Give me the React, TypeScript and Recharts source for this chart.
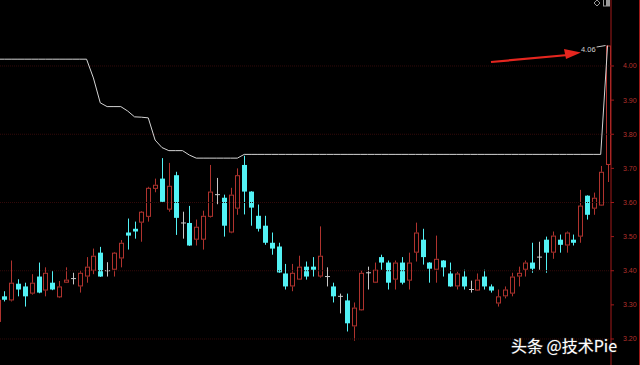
import {
  Bar,
  ComposedChart,
  Line,
  ReferenceDot,
  ReferenceLine,
  XAxis,
  YAxis,
} from 'recharts';

// one candle per trading day, oldest first (the first one is cut by the left edge)
const opens = [
  3.25, 3.325, 3.313, 3.362, 3.354, 3.333, 3.383, 3.342, 3.365, 3.322,
  3.365, 3.377, 3.354, 3.383, 3.4, 3.453, 3.4, 3.403, 3.436, 3.512,
  3.523, 3.541, 3.558, 3.64, 3.67, 3.579, 3.68, 3.54, 3.54, 3.491,
  3.491, 3.558, 3.623, 3.614, 3.512, 3.582, 3.71, 3.632, 3.561, 3.532,
  3.482, 3.471, 3.392, 3.354, 3.374, 3.412, 3.412, 3.383, 3.383, 3.354,
  3.325, 3.313, 3.237, 3.284, 3.394, 3.365, 3.44, 3.424, 3.374, 3.424,
  3.371, 3.453, 3.491, 3.424, 3.403, 3.43, 3.392, 3.354, 3.383, 3.345,
  3.342, 3.383, 3.354, 3.304, 3.325, 3.333, 3.383, 3.403, 3.424, 3.44,
  3.491, 3.453, 3.491, 3.474, 3.491, 3.5, 3.62, 3.582, 3.591, 3.71,
];
const highs = [
  3.33, 3.34, 3.43, 3.375, 3.365, 3.39, 3.424, 3.41, 3.4, 3.37,
  3.41, 3.394, 3.4, 3.44, 3.465, 3.47, 3.425, 3.455, 3.49, 3.553,
  3.544, 3.575, 3.646, 3.67, 3.73, 3.716, 3.69, 3.573, 3.59, 3.55,
  3.576, 3.71, 3.672, 3.623, 3.643, 3.7, 3.737, 3.633, 3.594, 3.561,
  3.512, 3.482, 3.42, 3.42, 3.444, 3.427, 3.44, 3.53, 3.41, 3.365,
  3.333, 3.333, 3.307, 3.4, 3.412, 3.424, 3.447, 3.43, 3.43, 3.44,
  3.453, 3.541, 3.523, 3.425, 3.503, 3.431, 3.424, 3.397, 3.403, 3.371,
  3.392, 3.403, 3.36, 3.345, 3.354, 3.394, 3.412, 3.43, 3.482, 3.485,
  3.5, 3.515, 3.506, 3.515, 3.506, 3.637, 3.621, 3.629, 3.707, 4.06,
];
const lows = [
  3.24, 3.31, 3.31, 3.325, 3.295, 3.33, 3.334, 3.325, 3.343, 3.32,
  3.364, 3.36, 3.336, 3.365, 3.39, 3.382, 3.383, 3.383, 3.41, 3.462,
  3.494, 3.485, 3.544, 3.63, 3.6, 3.573, 3.505, 3.494, 3.473, 3.474,
  3.462, 3.556, 3.595, 3.5, 3.51, 3.564, 3.565, 3.532, 3.515, 3.476,
  3.447, 3.394, 3.345, 3.34, 3.373, 3.374, 3.383, 3.38, 3.354, 3.307,
  3.275, 3.222, 3.195, 3.283, 3.345, 3.364, 3.403, 3.345, 3.345, 3.36,
  3.345, 3.427, 3.418, 3.365, 3.365, 3.383, 3.353, 3.345, 3.345, 3.336,
  3.341, 3.345, 3.336, 3.295, 3.319, 3.325, 3.354, 3.383, 3.394, 3.403,
  3.394, 3.435, 3.453, 3.453, 3.474, 3.482, 3.55, 3.564, 3.59, 3.66,
];
const closes = [
  3.315, 3.315, 3.365, 3.345, 3.325, 3.365, 3.336, 3.394, 3.345, 3.354,
  3.374, 3.377, 3.394, 3.412, 3.444, 3.383, 3.4, 3.453, 3.482, 3.503,
  3.515, 3.573, 3.643, 3.652, 3.602, 3.649, 3.555, 3.54, 3.474, 3.529,
  3.561, 3.632, 3.623, 3.532, 3.623, 3.68, 3.632, 3.585, 3.523, 3.482,
  3.465, 3.395, 3.354, 3.394, 3.412, 3.383, 3.403, 3.444, 3.383, 3.325,
  3.325, 3.246, 3.292, 3.394, 3.394, 3.403, 3.424, 3.365, 3.424, 3.365,
  3.424, 3.512, 3.44, 3.406, 3.435, 3.41, 3.354, 3.392, 3.354, 3.345,
  3.374, 3.354, 3.342, 3.325, 3.345, 3.383, 3.394, 3.424, 3.406, 3.44,
  3.453, 3.503, 3.476, 3.512, 3.482, 3.591, 3.564, 3.614, 3.69, 4.06,
];
// the white stepped overlay line
const peakLine = [
  4.02, 4.02, 4.02, 4.02, 4.02, 4.02, 4.02, 4.02, 4.02, 4.02,
  4.02, 4.02, 4.02, 4.02, 3.965, 3.892, 3.881, 3.881, 3.881, 3.868,
  3.851, 3.85, 3.848, 3.783, 3.761, 3.752, 3.752, 3.752, 3.739, 3.73,
  3.73, 3.73, 3.73, 3.73, 3.73, 3.73, 3.741, 3.741, 3.741, 3.741,
  3.741, 3.741, 3.741, 3.741, 3.741, 3.741, 3.741, 3.741, 3.741, 3.741,
  3.741, 3.741, 3.741, 3.741, 3.741, 3.741, 3.741, 3.741, 3.741, 3.741,
  3.741, 3.741, 3.741, 3.741, 3.741, 3.741, 3.741, 3.741, 3.741, 3.741,
  3.741, 3.741, 3.741, 3.741, 3.741, 3.741, 3.741, 3.741, 3.741, 3.741,
  3.741, 3.741, 3.741, 3.741, 3.741, 3.741, 3.741, 3.741, 3.741, 4.06,
];
const priceTicks = [3.2, 3.3, 3.4, 3.5, 3.6, 3.7, 3.8, 3.9, 4.0];
const gridLevels = [3.2, 3.4, 3.6, 3.8, 4.0];
const peakLabel = '4.06';

const UP = '#b0332e';
const DOWN = '#52f2f5';
const FLAT = '#c8c8c8';
const AXIS_RED = '#a31a1a';

const rows = opens.map((open, i) => ({
  idx: i,
  open,
  high: highs[i],
  low: lows[i],
  close: closes[i],
  range: [lows[i], highs[i]],
  peak: peakLine[i],
}));

function Candle(props: any) {
  const { x, y, width, height, payload } = props;
  if (!payload) return null;
  const { open, close, high, low } = payload;
  const top = Math.min(y, y + height);
  const h = Math.abs(height);
  const k = h / (high - low || 1);
  const py = (v: number) => top + (high - v) * k;
  const cx = Math.round(x + width / 2) + 0.5;
  const left = cx - width / 2;
  const color = close > open ? UP : close < open ? DOWN : FLAT;
  const bodyTop = py(Math.max(open, close));
  const bodyBot = py(Math.min(open, close));

  if (close === open) {
    return (
      <g>
        <line x1={cx} x2={cx} y1={top} y2={top + h} stroke={color} />
        <line x1={left} x2={left + width} y1={bodyTop} y2={bodyTop} stroke={color} />
      </g>
    );
  }
  if (close > open) {
    return (
      <g>
        <line x1={cx} x2={cx} y1={top} y2={bodyTop} stroke={color} />
        <line x1={cx} x2={cx} y1={bodyBot} y2={top + h} stroke={color} />
        <rect
          x={left + 0.5}
          y={bodyTop + 0.5}
          width={width - 1}
          height={Math.max(bodyBot - bodyTop - 1, 1)}
          fill="#000"
          stroke={color}
        />
      </g>
    );
  }
  return (
    <g>
      <line x1={cx} x2={cx} y1={top} y2={top + h} stroke={color} />
      <rect
        x={left}
        y={bodyTop}
        width={width}
        height={Math.max(bodyBot - bodyTop, 1.5)}
        fill={color}
      />
    </g>
  );
}

function PeakMark(props: any) {
  const { cx, cy } = props;
  return (
    <g>
      <text
        x={cx - 12}
        y={cy + 6}
        textAnchor="end"
        fontSize={7.5}
        fill="#d0d0d0"
        fontFamily="Liberation Sans, Arial, sans-serif"
      >
        {peakLabel}
      </text>
      <line x1={cx - 11} y1={cy + 1.5} x2={cx - 2} y2={cy} stroke="#c8c8c8" />
    </g>
  );
}

export default function App() {
  return (
    <div
      style={{
        position: 'fixed',
        left: 0,
        top: 0,
        width: 640,
        height: 365,
        background: '#000',
        overflow: 'hidden',
      }}
    >
      <ComposedChart
        width={640}
        height={365}
        data={rows}
        margin={{ top: 0, right: 0, bottom: 0, left: -6 }}
      >
        <XAxis dataKey="idx" hide />
        <YAxis
          orientation="right"
          width={29}
          domain={[3.1238, 4.1934]}
          allowDataOverflow
          ticks={priceTicks}
          interval={0}
          tickFormatter={(v: number) => v.toFixed(2)}
          axisLine={{ stroke: AXIS_RED }}
          tickLine={{ stroke: AXIS_RED }}
          tickSize={3}
          tickMargin={9}
          tick={{
            fill: '#b3312c',
            fontSize: 7,
            fontFamily: 'Liberation Sans, Arial, sans-serif',
          }}
        />
        {gridLevels.map((v) => (
          <ReferenceLine key={v} y={v} stroke="#330a0a" strokeDasharray="1 1" />
        ))}
        <Bar
          dataKey="range"
          barSize={5}
          shape={<Candle />}
          isAnimationActive={false}
        />
        <Line
          dataKey="peak"
          type="linear"
          stroke="#d4d4d4"
          strokeWidth={1}
          dot={false}
          activeDot={false}
          isAnimationActive={false}
        />
        <ReferenceDot
          x={rows.length - 1}
          y={highs[highs.length - 1]}
          r={1}
          shape={<PeakMark />}
        />
      </ComposedChart>
      <svg
        width={640}
        height={365}
        style={{ position: 'absolute', left: 0, top: 0, pointerEvents: 'none' }}
      >
        <line x1={639.5} x2={639.5} y1={0} y2={365} stroke={AXIS_RED} />
        {/* corner glyphs */}
        <polygon points="597,0 600,3 597,6 594,3" fill="none" stroke="#9a9a9a" />
        <rect x={603.5} y={-1} width={6} height={7} fill="none" stroke="#9a9a9a" />
        <rect x={606} y={-1} width={3} height={7} fill="#9a9a9a" />
        {/* red arrow */}
        <line x1={491} y1={62} x2={568} y2={55} stroke="#e5261f" strokeWidth={2.2} />
        <polygon points="581,52.5 564,49 566,59" fill="#e5261f" />
        <text
          x={511}
          y={352}
          fontSize={16}
          fill="#ffffff"
          fontFamily="Noto Sans CJK SC, sans-serif"
          style={{ paintOrder: 'stroke' }}
          stroke="#333"
          strokeWidth={1}
        >
          头条 @技术Pie
        </text>
      </svg>
    </div>
  );
}
